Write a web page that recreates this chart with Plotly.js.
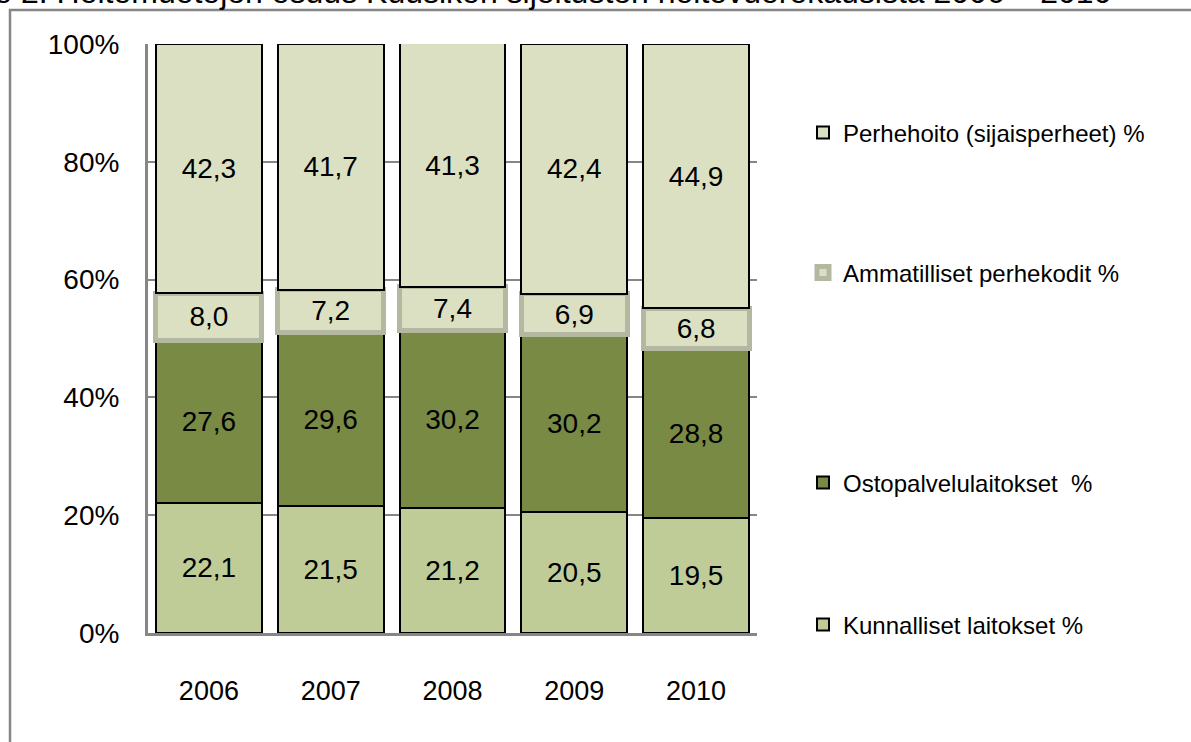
<!DOCTYPE html>
<html>
<head>
<meta charset="utf-8">
<script src="https://cdn.plot.ly/plotly-3.0.1.min.js"></script>
<style>
html,body{margin:0;padding:0;background:#fff;}
#chart{width:1191px;height:742px;}
</style>
</head>
<body>
<div id="chart"></div>
<script>
const years = ['2006','2007','2008','2009','2010'];
const kunnalliset = [22.1, 21.5, 21.2, 20.5, 19.5];
const ostopalvelu = [27.6, 29.6, 30.2, 30.2, 28.8];
const ammatilliset = [8.0, 7.2, 7.4, 6.9, 6.8];
const perhehoito = [42.3, 41.7, 41.3, 42.4, 44.9];
const seriesNames = ['Kunnalliset laitokset %', 'Ostopalvelulaitokset  %', 'Ammatilliset perhekodit %', 'Perhehoito (sijaisperheet) %'];
const tickVals = [0, 20, 40, 60, 80, 100];
const tickText = ['0%', '20%', '40%', '60%', '80%', '100%'];
const titleText = 'Kuvio 2. Hoitomuotojen osuus Kuusikon sijoitusten hoitovuorokausista 2006 – 2010';

const FONT = 'Liberation Sans, Arial, sans-serif';
const fills = ['#bfcc97', '#788a44', '#dbe0c3', '#dbe0c3'];
const lines = ['#000000', '#000000', '#b4b8a0', '#000000'];
const lineW = [2, 2, 5, 2];
const legends = ['legend4', 'legend3', 'legend2', 'legend'];
const dataSets = [kunnalliset, ostopalvelu, ammatilliset, perhehoito];

const traces = dataSets.map((d, i) => ({
  type: 'bar',
  x: years,
  y: d,
  name: seriesNames[i],
  legend: legends[i],
  marker: {color: fills[i], line: {color: lines[i], width: lineW[i]}},
  texttemplate: '%{y:.1f}',
  textposition: 'inside',
  insidetextanchor: 'middle',
  constraintext: 'none',
  textfont: {family: FONT, size: 28, color: '#000'},
  hoverinfo: 'skip'
}));

// plot area pixels: x 148..757, y 44..633
const pw = 609, ph = 589, L = 148, T = 44, B = 633;
const px = v => (v - L) / pw;
const py = v => (B - v) / ph;

function leg(yPix) {
  return {
    x: px(803), xanchor: 'left', y: py(yPix), yanchor: 'middle',
    font: {family: FONT, size: 24, color: '#000'},
    bgcolor: 'rgba(0,0,0,0)', borderwidth: 0,
    itemwidth: 30, traceorder: 'normal'
  };
}

const layout = {
  width: 1191, height: 742,
  margin: {l: L, r: 1191 - 757, t: T, b: 742 - B, pad: 0},
  paper_bgcolor: '#fff', plot_bgcolor: '#fff',
  barmode: 'stack',
  bargap: 0.13,
  separators: ',.',
  uniformtext: {mode: 'show', minsize: 28},
  showlegend: true,
  legend: leg(133),
  legend2: leg(273),
  legend3: leg(483),
  legend4: leg(625),
  xaxis: {
    type: 'category',
    showline: true, linecolor: '#868686', linewidth: 3,
    showgrid: false, ticks: '',
    tickfont: {family: FONT, size: 27, color: '#000'},
    ticklabelstandoff: 32,
    fixedrange: true
  },
  yaxis: {
    range: [0, 100],
    tickvals: tickVals, ticktext: tickText,
    showline: true, linecolor: '#868686', linewidth: 3,
    showgrid: true, gridcolor: '#868686', gridwidth: 2,
    zeroline: false, ticks: '',
    tickfont: {family: FONT, size: 28, color: '#000'},
    ticklabelstandoff: 20,
    fixedrange: true
  },
  shapes: [{
    type: 'rect', xref: 'paper', yref: 'paper',
    x0: px(10), x1: px(1200), y0: py(750), y1: py(10),
    line: {color: '#868686', width: 2.5}, fillcolor: 'rgba(0,0,0,0)', layer: 'below'
  }],
  annotations: [{
    text: titleText, xref: 'paper', yref: 'paper',
    x: px(1113), xanchor: 'right', y: py(12), yanchor: 'bottom',
    showarrow: false,
    font: {family: 'Liberation Sans, Arial, sans-serif', size: 32, color: '#000'}
  }]
};

Plotly.newPlot('chart', traces, layout, {displayModeBar: false, staticPlot: true});
</script>
</body>
</html>
